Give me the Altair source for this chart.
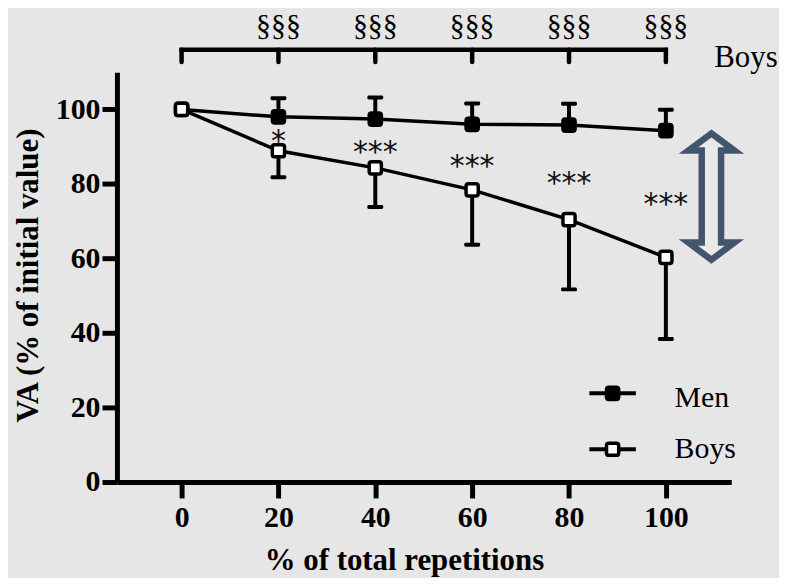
import altair as alt
import pandas as pd

# ---- data ----
reps = [0, 20, 40, 60, 80, 100]
men_mean = [100, 98.0, 97.4, 96.0, 95.8, 94.3]
men_sd = [0, 5.0, 5.8, 5.6, 5.7, 5.6]
boys_mean = [100, 88.9, 84.3, 78.4, 70.4, 60.3]
boys_sd = [0, 7.1, 10.5, 14.7, 18.7, 21.9]

star_x = [20, 40, 60, 80, 100]
star_labels = ["*", "***", "***", "***", "***"]
star_y = [88.9, 86.0, 82.2, 77.6, 71.8]

sect_x = [20, 40, 60, 80, 100]
sect_labels = ["§§§", "§§§", "§§§", "§§§", "§§§"]
sect_y = [119.9] * 5
bracket_x = [0, 20, 40, 60, 80, 100]
bracket_top = 116.0
bracket_bottom = 112.7
bracket_label = ["Boys"]
bracket_label_x = [110.0]
bracket_label_y = [111.4]

arrow_x = [109.4]
arrow_y = [76.6]

legend_names = ["Men", "Boys"]
legend_line_x = [84.2, 93.8]
legend_sym_x = [89.0]
legend_sym_y = [23.8, 8.8]
legend_text_x = [101.8]
legend_text_y = [20.0, 6.4]

y_ticks = [0, 20, 40, 60, 80, 100]
x_ticks = [0, 20, 40, 60, 80, 100]

# ---- tables ----
rows = []
for g, means, sds, sign in [("Men", men_mean, men_sd, 1), ("Boys", boys_mean, boys_sd, -1)]:
    for r, m, s in zip(reps, means, sds):
        rows.append({"group": g, "x": r, "mean": m, "sd": s, "end": m + sign * s})
df = pd.DataFrame(rows)
df_err = df[df["sd"] > 0]

stars = pd.DataFrame({"x": star_x, "y": star_y, "t": star_labels})
sects = pd.DataFrame({"x": sect_x, "y": sect_y, "t": sect_labels})
brk_h = pd.DataFrame({"x": [bracket_x[0]], "x2": [bracket_x[-1]], "y": [bracket_top]})
brk_v = pd.DataFrame({"x": bracket_x, "y": [bracket_bottom] * 6, "y2": [bracket_top] * 6})
brk_lbl = pd.DataFrame({"x": bracket_label_x, "y": bracket_label_y, "t": bracket_label})
arrow = pd.DataFrame({"x": arrow_x, "y": arrow_y})
leg_lines = pd.DataFrame({"x": [legend_line_x[0]] * 2, "x2": [legend_line_x[1]] * 2,
                          "y": legend_sym_y, "group": legend_names})
leg_syms = pd.DataFrame({"x": legend_sym_x * 2, "y": legend_sym_y, "group": legend_names})
leg_text = pd.DataFrame({"x": legend_text_x * 2, "y": legend_text_y, "t": legend_names})

x_scale = alt.Scale(domain=[-13.35, 113.5], nice=False, zero=False)
y_scale = alt.Scale(domain=[0, 110], nice=False, zero=False)
fill_scale = alt.Scale(domain=["Men", "Boys"], range=["#000000", "#ffffff"])

SERIF = "Liberation Serif"
ROUND_SQ = ("M-0.6,-1 L0.6,-1 Q1,-1 1,-0.6 L1,0.6 Q1,1 0.6,1 L-0.6,1 "
            "Q-1,1 -1,0.6 L-1,-0.6 Q-1,-1 -0.6,-1 Z")
ARROW = ("M0,-0.934 L0.34,-0.68 L0.143,-0.68 L0.143,0.68 L0.34,0.68 L0,0.934 "
         "L-0.34,0.68 L-0.143,0.68 L-0.143,-0.68 L-0.34,-0.68 Z")

x_axis = alt.Axis(values=x_ticks, title="% of total repetitions", grid=False,
                  tickSize=16, labelPadding=5, titleX=288.5, titleY=87.5,
                  titleBaseline="alphabetic", titleAlign="center")
y_axis = alt.Axis(values=y_ticks, title="VA (% of initial value)", grid=False,
                  tickSize=15, labelPadding=2, titleX=-89, titleY=204,
                  titleBaseline="middle", titleAlign="center", titleAngle=270)


def X(f="x"):
    return alt.X(f, type="quantitative", scale=x_scale, axis=x_axis)


def Y(f="y"):
    return alt.Y(f, type="quantitative", scale=y_scale, axis=y_axis)


lines = alt.Chart(df).mark_line(color="black", strokeWidth=3.5).encode(
    x=X(), y=Y("mean"), detail="group:N",
)
err = alt.Chart(df_err).mark_rule(color="black", strokeWidth=4).encode(
    x=X(), y=Y("mean"), y2="end:Q"
)
caps = alt.Chart(df_err).mark_tick(color="black", orient="horizontal", size=16,
                                   thickness=4, cornerRadius=1.5, opacity=1).encode(
    x=X(), y=Y("end")
)
points = alt.Chart(df).mark_point(shape=ROUND_SQ, size=150, filled=True, opacity=1,
                                  stroke="black", strokeWidth=3.5).encode(
    x=X(), y=Y("mean"),
    fill=alt.Fill("group:N", scale=fill_scale, legend=None),
)
star_txt = alt.Chart(stars).mark_text(font="DejaVu Sans", fontSize=30, color="#111111",
                                      align="center", baseline="alphabetic").encode(
    x=X(), y=Y(), text="t:N"
)
sect_txt = alt.Chart(sects).mark_text(font=SERIF, fontSize=30, color="black",
                                      align="center", baseline="alphabetic").encode(
    x=X(), y=Y(), text="t:N"
)
bh = alt.Chart(brk_h).mark_rule(color="black", strokeWidth=4.5, strokeCap="square").encode(
    x=X(), x2="x2:Q", y=Y()
)
bv = alt.Chart(brk_v).mark_rule(color="black", strokeWidth=4.5, strokeCap="round").encode(
    x=X(), y=Y(), y2="y2:Q"
)
blbl = alt.Chart(brk_lbl).mark_text(font=SERIF, fontSize=31, color="black",
                                    align="left", baseline="alphabetic").encode(
    x=X(), y=Y(), text="t:N"
)
arr = alt.Chart(arrow).mark_point(shape=ARROW, size=136 * 136, filled=True, opacity=1,
                                  fill="#e9e9e9", stroke="#44546a", strokeWidth=6.5).encode(
    x=X(), y=Y()
)
leg_l = alt.Chart(leg_lines).mark_rule(color="black", strokeWidth=4).encode(
    x=X(), x2="x2:Q", y=Y()
)
leg_p = alt.Chart(leg_syms).mark_point(shape=ROUND_SQ, size=150, filled=True, opacity=1,
                                       stroke="black", strokeWidth=3.5).encode(
    x=X(), y=Y(), fill=alt.Fill("group:N", scale=fill_scale, legend=None)
)
leg_t = alt.Chart(leg_text).mark_text(font=SERIF, fontSize=30, color="black",
                                      align="left", baseline="alphabetic").encode(
    x=X(), y=Y(), text="t:N"
)

chart = alt.layer(
    lines, err, caps, points, star_txt, bh, bv, sect_txt, blbl, arr, leg_l, leg_p, leg_t
).properties(
    width=617.5,
    height=412,
    autosize=alt.AutoSizeParams(type="none"),
    padding={"left": 109.5, "top": 63, "right": 48, "bottom": 95},
    background="#e6e6e6",
).configure_view(stroke=None).configure_axis(
    domainColor="black", domainWidth=5, tickColor="black", tickWidth=5,
    labelFont=SERIF, labelFontWeight="bold", labelFontSize=30, labelColor="black",
    titleFont=SERIF, titleFontWeight="bold", titleFontSize=31, titleColor="black",
)

chart.save("out.html", embed_options={"renderer": "svg", "actions": False})
